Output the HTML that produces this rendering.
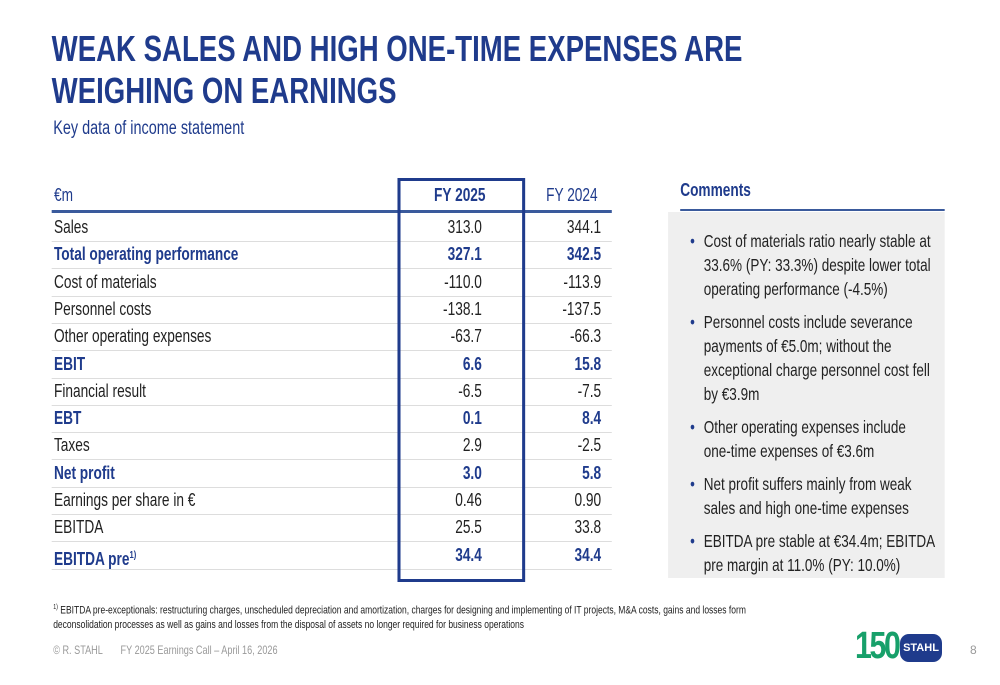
<!DOCTYPE html>
<html><head><meta charset="utf-8"><style>
body{margin:0;width:1000px;height:685px;background:#fff;font-family:"Liberation Sans",sans-serif;position:relative;overflow:hidden}
#w{position:absolute;left:0;top:0;width:1316px;height:685px;transform:scaleX(0.76);transform-origin:0 0}
.abs{position:absolute}
h1{position:absolute;left:68px;top:28px;margin:0;font-size:36.3px;line-height:42px;color:#1f3b8c;font-weight:bold;white-space:nowrap}
.sub{left:70px;top:118px;font-size:19px;color:#1f3b8c}
.row{position:absolute;left:68px;width:737px;height:27px;border-bottom:1px solid #ddd;font-size:18px;color:#222;line-height:27px}
.row span{position:absolute;white-space:nowrap}
.row .l{left:3px}.row .a{right:171px}.row .b{right:14px}
.bold{color:#1f3b8c;font-weight:bold}
.cm{left:879px;width:364px;top:212px;height:366px;background:#efefef}
.cm ul{margin:0;padding:17px 10px 0 47px;font-size:17.8px;line-height:24px;color:#222}
.cm li{margin-bottom:9px;list-style:none;position:relative}
.cm li:before{content:"•";color:#1f3b8c;position:absolute;left:-18px}
</style></head><body>
<div id="w">
<h1>WEAK SALES AND HIGH ONE-TIME EXPENSES ARE<br>WEIGHING ON EARNINGS</h1>
<div class="abs sub">Key data of income statement</div>
<div class="abs" style="left:68px;top:180px;width:737px;height:30px;border-bottom:3px solid #3a5a9c;font-size:18px;line-height:30px;color:#1f3b8c">
<span class="abs" style="left:3px">€m</span><span class="abs" style="left:455px;width:164px;text-align:center;font-weight:bold">FY 2025</span><span class="abs" style="left:632px;width:105px;text-align:center">FY 2024</span></div>
<div id="rows"></div>
<div class="abs" style="left:523px;top:178px;width:160px;height:398px;border:3px solid #1f3b8c;border-left-width:4px;border-right-width:4px"></div>
<div class="abs" style="left:895px;top:180px;width:348px;height:29px;border-bottom:2px solid #3a5a9c;font-size:18px;font-weight:bold;color:#1f3b8c">Comments</div>
<div class="abs cm"><ul>
<li>Cost of materials ratio nearly stable at 33.6% (PY: 33.3%) despite lower total operating performance (-4.5%)</li>
<li>Personnel costs include severance payments of €5.0m; without the exceptional charge personnel cost fell by €3.9m</li>
<li>Other operating expenses include one&#8209;time expenses of €3.6m</li>
<li>Net profit suffers mainly from weak sales and high one-time expenses</li>
<li>EBITDA pre stable at €34.4m; EBITDA pre margin at 11.0% (PY: 10.0%)</li></ul></div>
<div class="abs" style="left:70px;top:601px;font-size:11.2px;line-height:14px;color:#222;width:1000px"><sup style="font-size:7px">1)</sup> EBITDA pre-exceptionals: restructuring charges, unscheduled depreciation and amortization, charges for designing and implementing of IT projects, M&amp;A costs, gains and losses form<br>deconsolidation processes as well as gains and losses from the disposal of assets no longer required for business operations</div>
<div class="abs" style="left:70px;top:643px;font-size:12px;color:#999">© R. STAHL&nbsp;&nbsp;&nbsp;&nbsp;&nbsp;&nbsp;&nbsp;FY 2025 Earnings Call – April 16, 2026</div>
</div>
<div class="abs" style="left:855px;top:630px;width:90px;height:36px">
<span class="abs" style="left:0;top:-5px;font-size:38px;font-weight:bold;color:#17a06a;letter-spacing:-3px;transform:scaleX(0.8);transform-origin:0 0">150</span>
<span class="abs" style="left:45px;top:4px;width:42px;height:28px;background:#1f3b8c;border-radius:9px;color:#fff;font-size:11px;font-weight:bold;text-align:center;line-height:28px">STAHL</span></div>
<div class="abs" style="left:970px;top:643px;font-size:12px;color:#999">8</div>
<script>
const labels=["Sales","Total operating performance","Cost of materials","Personnel costs","Other operating expenses","EBIT","Financial result","EBT","Taxes","Net profit","Earnings per share in €","EBITDA","EBITDA pre<sup style='font-size:10px'>1)</sup>"];
const fy2025=["313.0","327.1","-110.0","-138.1","-63.7","6.6","-6.5","0.1","2.9","3.0","0.46","25.5","34.4"];
const fy2024=["344.1","342.5","-113.9","-137.5","-66.3","15.8","-7.5","8.4","-2.5","5.8","0.90","33.8","34.4"];
const boldRows=[1,5,7,9,12];
const c=document.getElementById('rows');
labels.forEach((l,i)=>{
 const r=document.createElement('div');
 r.className='row'+(boldRows.includes(i)?' bold':'');
 r.style.top=(214+i*27.3)+'px';
 
 
 r.innerHTML=`<span class="l">${l}</span><span class="a">${fy2025[i]}</span><span class="b">${fy2024[i]}</span>`;
 c.appendChild(r);
});
</script>
</body></html>
